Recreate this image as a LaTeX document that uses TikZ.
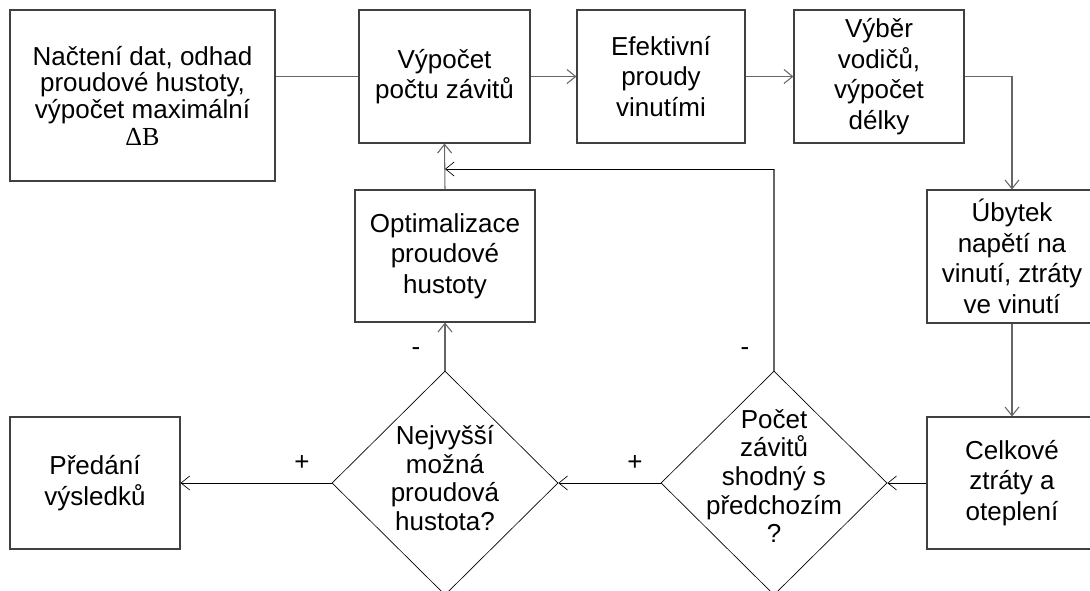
\documentclass[tikz,border=0pt]{standalone}
\usepackage{fontspec}
\setmainfont{Liberation Sans}
\newfontfamily\timesfont{Liberation Serif}
\usepackage{tikz}
\usetikzlibrary{shapes.geometric,arrows.meta}

\begin{document}
\begin{tikzpicture}[x=0.75pt, y=-0.75pt,
    >={Straight Barb[length=6.5pt,width=10.5pt]},
    txt/.style={font=\fontsize{19.5pt}{23pt}\selectfont, align=center},
    box/.style={txt, draw=black!75, line width=0.8pt, inner sep=2pt,
      minimum width=127.5pt, minimum height=99.75pt},
    decision/.style={diamond, draw=black, line width=0.5pt, inner sep=0pt,
      minimum width=169.5pt, minimum height=168pt},
    line/.style={draw=black!60, line width=0.8pt},
    thinline/.style={draw=black, line width=0.5pt},
    sign/.style={txt, inner sep=0pt}]
  \useasboundingbox (0,0) rectangle (1090,590);

  % top row
  \node[box, minimum width=198.75pt, minimum height=128.25pt, font=\fontsize{19.5pt}{20pt}\selectfont] (b1) at (142.5,95.5)
    {Načtení dat, odhad\\proudové hustoty,\\výpočet maximální\\{\timesfont ΔB}};
  \node[box, minimum width=128.25pt] (b2) at (444.5,76.5) {Výpočet\\počtu závitů};
  \node[box, minimum width=126pt] (b3) at (661,76.5) {Efektivní\\proudy\\vinutími};
  \node[box] (b4) at (879,76.5) {Výběr\\vodičů,\\výpočet\\délky};

  % right column
  \node[box] (b5) at (1012,256.5) {Úbytek\\napětí na\\vinutí, ztráty\\ve vinutí};
  \node[box, minimum height=99pt] (b6) at (1012,483) {Celkové\\ztráty a\\oteplení};

  % loop
  \node[box, minimum width=135pt, minimum height=99pt] (opt) at (445,256) {Optimalizace\\proudové\\hustoty};
  \node[decision] (d1) at (445,483) {};
  \node[txt, font=\fontsize{19.5pt}{21.5pt}\selectfont] (d1t) at (445,478) {Nejvyšší\\možná\\proudová\\hustota?};
  \node[decision] (d2) at (774,483) {};
  \node[txt, font=\fontsize{19.5pt}{21.5pt}\selectfont] (d2t) at (774,476) {Počet\\závitů\\shodný s\\předchozím\\?};
  \node[box, minimum height=99pt] (out) at (95,483) {Předání\\výsledků};

  \coordinate (fb) at (445,169);

  % connectors
  \draw[line] (b1.east |- b2.west) -- (b2.west);
  \draw[line, ->] (b2) -- (b3);
  \draw[line, ->] (b3) -- (b4);
  \draw[line, ->] (b4.east) -| (b5.north);
  \draw[line, ->] (b5) -- (b6);
  \draw[thinline, ->] (b6) -- (d2.east);
  \draw[thinline, ->] (d2.west) -- (d1.east);
  \draw[thinline, ->] (d1.west) -- (out.east);
  \draw[line, ->] (d1.north) -- (opt.south);
  \draw[line, ->] (opt.north) -- (b2.south);
  \draw[line] (d2.north) -- (d2.north |- fb);
  \draw[thinline, ->] (d2.north |- fb) -- (fb);

  % signs
  \node[sign] (s1) at (302,463) {+};
  \node[sign] (s2) at (635,463) {+};
  \node[sign] (s3) at (416,352) {-};
  \node[sign] (s4) at (745,352) {-};
\end{tikzpicture}
\end{document}
